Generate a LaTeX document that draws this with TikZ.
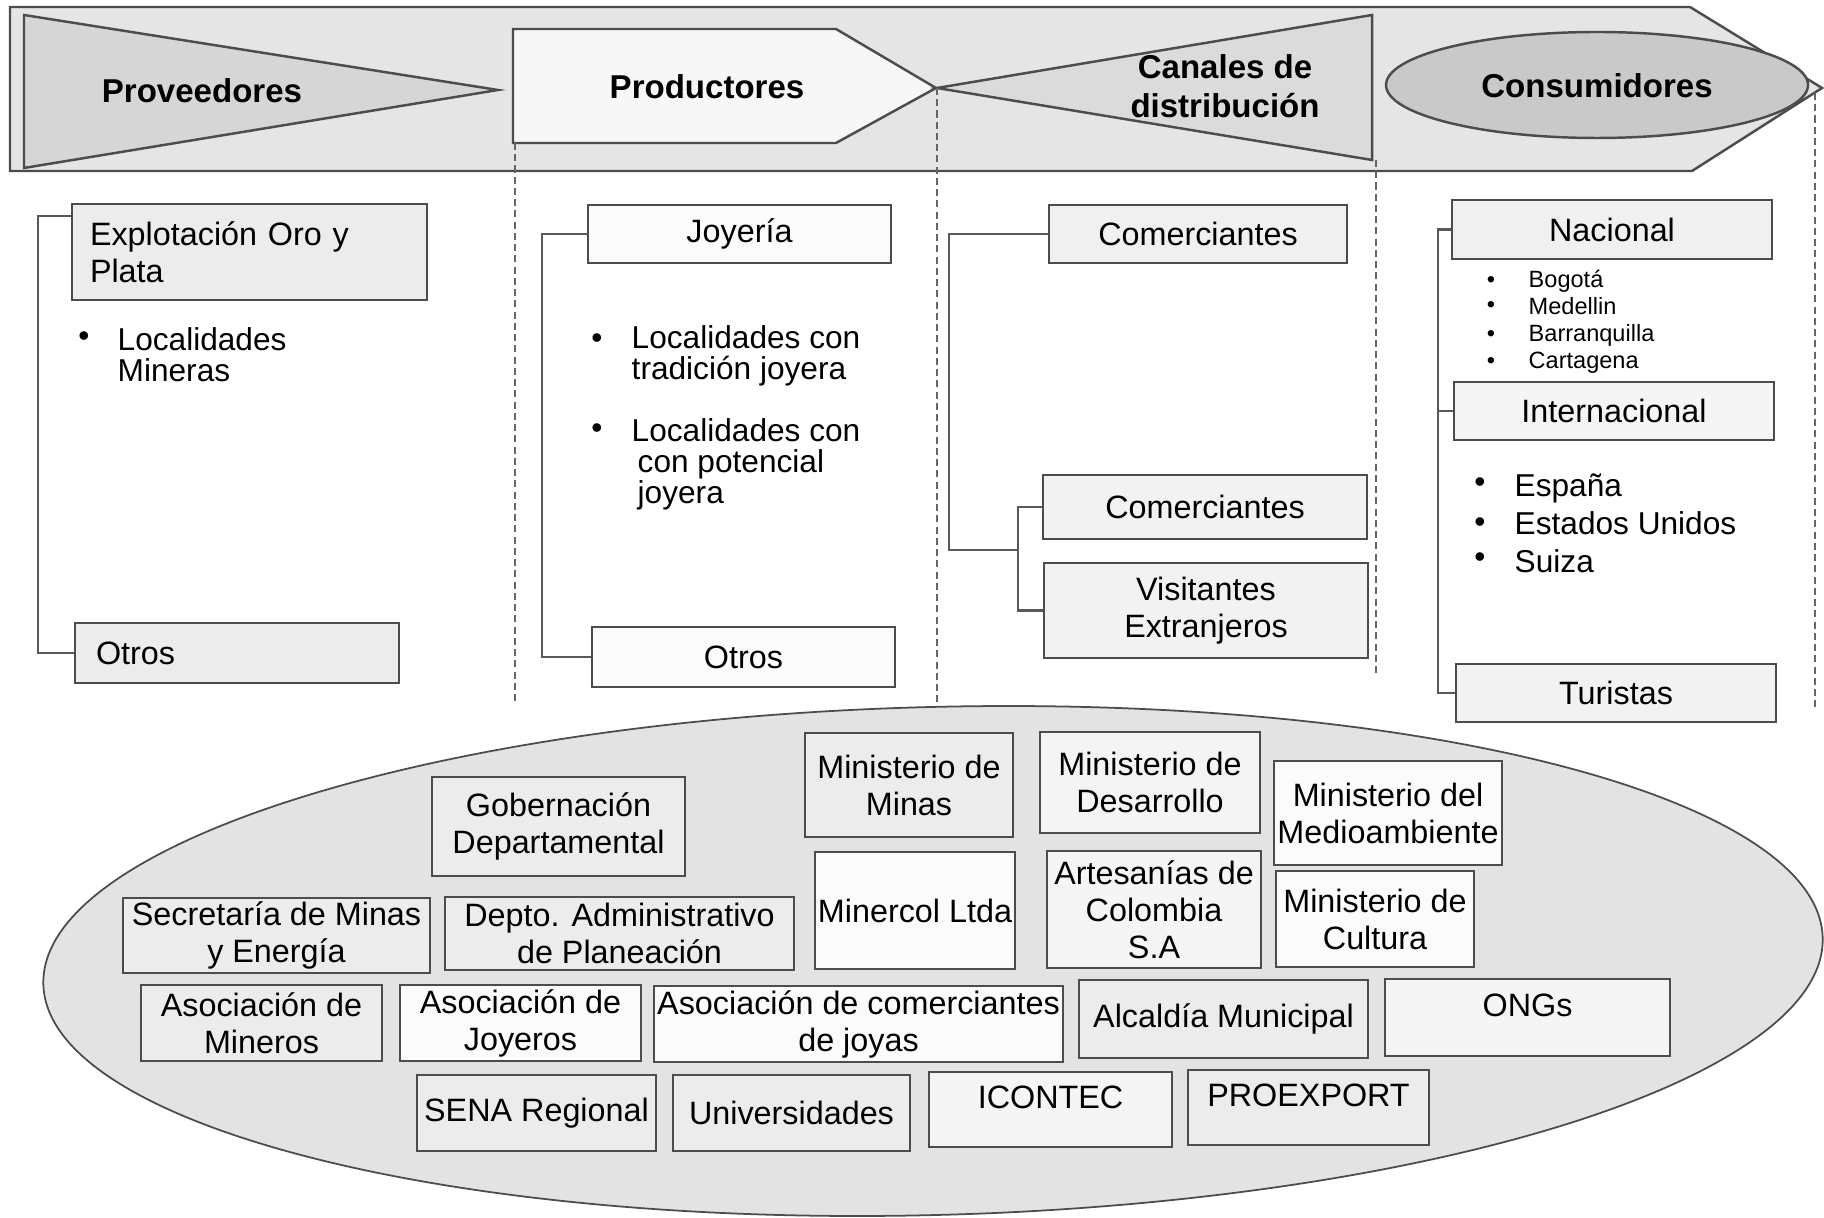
\documentclass[tikz,border=0pt]{standalone}
\usepackage{fontspec}
\setmainfont{Liberation Sans}

\begin{document}
\begin{tikzpicture}[x=0.1mm,y=-0.1mm,
    forma/.style={draw=black!70, line width=0.7pt},
    titulo/.style={font=\bfseries\fontsize{9.4}{11}\selectfont, align=center, inner sep=0pt},
    caja/.style={draw=black!70, line width=0.6pt, fill=gray!15, inner sep=0.3mm, align=center, font=\fontsize{9.2}{10.5}\selectfont},
    cajab/.style={caja, fill=gray!3},
    texto/.style={inner sep=0pt, align=left, font=\fontsize{9}{8.8}\selectfont},
    chico/.style={inner sep=0pt, align=left, font=\fontsize{6.7}{7.7}\selectfont},
    lista/.style={inner sep=0pt, align=left, font=\fontsize{9}{10.8}\selectfont},
    division/.style={draw=black!60, line width=0.5pt, dash pattern=on 2pt off 1.2pt},
    rama/.style={draw=black!65, line width=0.7pt},
    arriba/.style={text depth=2.5mm}]

\useasboundingbox (0,0) rectangle (1824,1218);

% banda de la cadena
\draw[forma, fill=gray!20] (10,7) -- (1690,7) -- (1822,88) -- (1692,171) -- (10,171) -- cycle;
\draw[forma, fill=gray!32] (24,15) -- (498,90) -- (24,168) -- cycle;
\draw[forma, fill=gray!6] (513,29) -- (836,29) -- (936,88) -- (836,143) -- (513,143) -- cycle;
\draw[forma, fill=gray!28] (937,88) -- (1372,15) -- (1372,160) -- cycle;
\draw[forma, fill=gray!42] (1597,85) ellipse [x radius=21.1mm, y radius=5.3mm];

\node[titulo] (prov) at (202,91) {Proveedores};
\node[titulo] (prod) at (707,87) {Productores};
\node[titulo] (canal) at (1225,86) {Canales de\\distribución};
\node[titulo] (cons) at (1597,86) {Consumidores};

\draw[division] (515,143) -- (515,705);
\draw[division] (937,88) -- (937,712);
\draw[division] (1376,160) -- (1376,677);
\draw[division] (1815,93) -- (1815,709);

% proveedores
\node[caja] (expl) [minimum width=35.5mm, minimum height=9.6mm, text width=31.9mm, inner xsep=1.8mm, align=left] at (249.5,252) {Explotación Oro y\\Plata};
\node[caja] (otros1) [minimum width=32.4mm, minimum height=6mm, text width=28.2mm, inner xsep=2.1mm, align=left] at (237,653) {Otros};
\node[texto] (v1) at (84,339) {\textbullet};
\node[texto, anchor=west] (loc1) at (117,355) {Localidades\\Mineras};
\draw[rama] ([yshift=-1.3mm]expl.north west) -- ++(-33,0) |- (otros1.west);

% productores
\node[cajab] (joy) [minimum width=30.3mm, minimum height=5.8mm] at (739.5,234) {Joyería};
\node[cajab] (otros2) [minimum width=30.3mm, minimum height=6mm] at (743.5,657) {Otros};
\node[texto] (v2) at (597,341) {\textbullet};
\node[texto, anchor=west] (loc2) at (631,356) {Localidades con\\tradición joyera};
\node[texto] (v3) at (597,431) {\textbullet};
\node[texto, anchor=west] (loc3) at (631,464) {Localidades con\\\hspace{0.6mm}con potencial\\\hspace{0.6mm}joyera};
\draw[rama] (joy.west) -- ++(-45,0) |- (otros2.west);

% canales
\node[caja, fill=gray!12] (com1) [minimum width=29.8mm, minimum height=5.8mm] at (1198,234) {Comerciantes};
\node[caja, fill=gray!10] (com2) [minimum width=32.4mm, minimum height=6.4mm] at (1205,507) {Comerciantes};
\node[caja, fill=gray!10] (visit) [minimum width=32.4mm, minimum height=9.5mm] at (1206,610.5) {Visitantes\\Extranjeros};
\coordinate (junta) at (1018,550);
\draw[rama] (com1.west) -- ++(-99,0) |- (junta);
\draw[rama] (com2.west) -| (junta);
\draw[rama] (visit.west) -| (junta);

% consumidores
\node[caja, fill=gray!12] (nac) [minimum width=32mm, minimum height=5.9mm] at (1612,229.5) {Nacional};
\node[caja, fill=gray!8] (inter) [minimum width=32mm, minimum height=5.8mm] at (1614,411) {Internacional};
\node[caja, fill=gray!10] (tur) [minimum width=32mm, minimum height=5.8mm] at (1616,693) {Turistas};
\foreach \y [count=\i] in {282,307,336,363}
  \node[chico] (pn\i) at (1491,\y) {\textbullet};
\node[chico, anchor=west] (ciudades) at (1528,322) {Bogotá\\Medellin\\Barranquilla\\Cartagena};
\foreach \y [count=\i] in {485,525,560}
  \node[lista] (pi\i) at (1480,\y) {\textbullet};
\node[lista, anchor=west] (paises) at (1514,523) {España\\Estados Unidos\\Suiza};
\draw[rama] (nac.west) -- ++(-13,0) |- (tur.west);
\draw[rama] (inter.west) -- ++(-15,0);

% entorno institucional
\draw[draw=black!70, line width=0.5pt, fill=gray!22, rotate around={1.5:(933,961)}] (933,961) ellipse [x radius=89mm, y radius=25.4mm];

\node[caja] (gob) [minimum width=25.3mm, minimum height=9.9mm] at (558.5,826.5) {Gobernación\\Departamental};
\node[caja] (minas) [minimum width=20.8mm, minimum height=10.4mm] at (909,785) {Ministerio de\\Minas};
\node[caja, fill=gray!9] (desa) [minimum width=22mm, minimum height=10.1mm] at (1150,782.5) {Ministerio de\\Desarrollo};
\node[cajab] (medio) [minimum width=22.8mm, minimum height=10.4mm] at (1388,813) {Ministerio del\\Medioambiente};
\node[cajab] (minercol) [minimum width=20mm, minimum height=11.7mm] at (915,910.5) {Minercol Ltda};
\node[caja, fill=gray!8] (artes) [minimum width=21.4mm, minimum height=11.7mm] at (1154,909.5) {Artesanías de\\Colombia\\S.A};
\node[cajab] (cultura) [minimum width=19.8mm, minimum height=9.6mm] at (1375,919) {Ministerio de\\Cultura};
\node[caja] (secr) [minimum width=30.7mm, minimum height=7.5mm] at (276.5,935.5) {Secretaría de Minas\\y Energía};
\node[caja] (depto) [minimum width=34.9mm, minimum height=7.3mm] at (619.5,933.5) {Depto. Administrativo\\de Planeación};
\node[caja] (asocmin) [minimum width=24.1mm, minimum height=7.6mm] at (261.5,1023) {Asociación de\\Mineros};
\node[cajab] (asocjoy) [minimum width=24.1mm, minimum height=7.6mm] at (520.5,1023) {Asociación de\\Joyeros};
\node[cajab] (asoccom) [minimum width=40.5mm, minimum height=7.6mm] at (858.5,1024) {Asociación de comerciantes\\de joyas};
\node[caja] (alcal) [minimum width=28.9mm, minimum height=7.8mm] at (1223.5,1019) {Alcaldía Municipal};
\node[caja, fill=gray!8, arriba] (ongs) [minimum width=28.5mm, minimum height=7.7mm] at (1527.5,1017.5) {ONGs};
\node[caja] (sena) [minimum width=23.9mm, minimum height=7.6mm] at (536.5,1113) {SENA Regional};
\node[caja] (univ) [minimum width=23.7mm, minimum height=7.6mm] at (791.5,1113) {Universidades};
\node[caja, fill=gray!8, arriba] (icon) [minimum width=24.3mm, minimum height=7.5mm] at (1050.5,1109.5) {ICONTEC};
\node[caja, arriba] (proex) [minimum width=24.1mm, minimum height=7.5mm] at (1308.5,1107.5) {PROEXPORT};

\end{tikzpicture}
\end{document}
